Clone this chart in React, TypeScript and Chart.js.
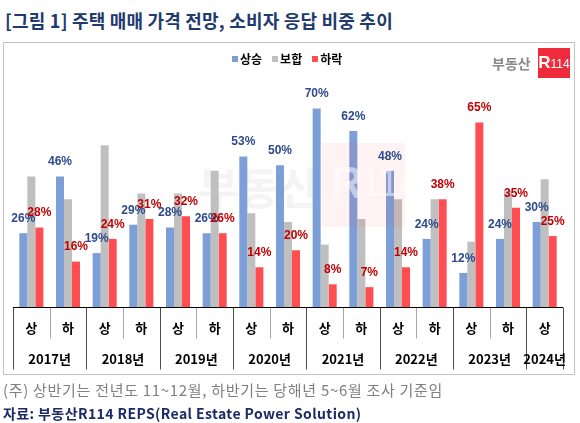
import { useEffect, useRef } from "react";
import { Chart, registerables } from "chart.js";

Chart.register(...registerables);

// ---- data ----
const periods = ["상", "하", "상", "하", "상", "하", "상", "하", "상", "하", "상", "하", "상", "하", "상"];
const categoryYears = [
  "2017년", "2017년", "2018년", "2018년", "2019년", "2019년", "2020년", "2020년",
  "2021년", "2021년", "2022년", "2022년", "2023년", "2023년", "2024년",
];
const seriesNames = ["상승", "보합", "하락"];
const riseValues = [26, 46, 19, 29, 28, 26, 53, 50, 70, 62, 48, 24, 12, 24, 30];
const flatValues = [46, 38, 57, 40, 40, 48, 33, 30, 22, 31, 38, 38, 23, 41, 45];
const fallValues = [28, 16, 24, 31, 32, 26, 14, 20, 8, 7, 14, 38, 65, 35, 25];

const barColors = ["#7C9FD7", "#BFBFBF", "#FF4D52"];
const labelColors = ["#2D4A8C", null, "#C00000"];
const KR = '"Noto Sans CJK KR", "Noto Sans", sans-serif';

const decorPlugin = {
  id: "decor",
  beforeDatasetsDraw(chart: any) {
    const ctx = chart.ctx;
    ctx.save();
    ctx.fillStyle = "#F4F4F4";
    ctx.font = `bold 44px ${KR}`;
    ctx.textAlign = "center";
    ctx.textBaseline = "middle";
    ctx.fillText("부동산", 259, 188);
    ctx.restore();
  },
  afterDatasetsDraw(chart: any) {
    const ctx = chart.ctx;
    // faint watermark box
    ctx.save();
    ctx.fillStyle = "rgba(255,70,90,0.07)";
    ctx.fillRect(322, 143, 83, 84);
    ctx.fillStyle = "rgba(255,255,255,0.5)";
    ctx.textBaseline = "middle";
    ctx.textAlign = "left";
    ctx.font = `bold 44px "Liberation Sans", Arial, sans-serif`;
    ctx.fillText("R", 331, 186);
    ctx.font = `38px "Liberation Sans Narrow", "Liberation Sans", sans-serif`;
    ctx.fillText("114", 360, 186);
    ctx.restore();

    // value labels
    ctx.save();
    ctx.font = `bold 12px "Liberation Sans", Arial, sans-serif`;
    ctx.textAlign = "center";
    ctx.textBaseline = "middle";
    chart.data.datasets.forEach((ds: any, di: number) => {
      const col = labelColors[di];
      if (!col) return;
      const meta = chart.getDatasetMeta(di);
      ctx.fillStyle = col;
      meta.data.forEach((el: any, j: number) => {
        ctx.fillText(ds.data[j] + "%", el.x, el.y - 14.5);
      });
    });
    ctx.restore();
  },
  afterDraw(chart: any) {
    const ctx = chart.ctx;
    const xs = chart.scales.x;
    const area = chart.chartArea;
    const n = periods.length;
    const left = area.left;
    const right = area.right;
    const step = (right - left) / n;
    const base = Math.round(area.bottom) + 0.5;
    ctx.save();
    // separators
    for (let i = 0; i <= n; i++) {
      const x = Math.round(left + i * step) + 0.5;
      const isYearEdge = i === 0 || i === n || categoryYears[i] !== categoryYears[i - 1];
      ctx.strokeStyle = isYearEdge ? "#4D4D4D" : "#A6A6A6";
      ctx.lineWidth = 1;
      ctx.beginPath();
      ctx.moveTo(x, base);
      ctx.lineTo(x, isYearEdge ? base + 62 : base + 31);
      ctx.stroke();
    }
    // axis line
    ctx.strokeStyle = "#000000";
    ctx.lineWidth = 1;
    ctx.beginPath();
    ctx.moveTo(left, base);
    ctx.lineTo(right, base);
    ctx.stroke();

    // labels
    ctx.fillStyle = "#000000";
    ctx.font = `bold 13px ${KR}`;
    ctx.textAlign = "center";
    ctx.textBaseline = "middle";
    periods.forEach((p, i) => {
      ctx.fillText(p, xs.getPixelForValue(i), base + 20.5);
    });
    let start = 0;
    for (let i = 1; i <= n; i++) {
      if (i === n || categoryYears[i] !== categoryYears[start]) {
        const cx = (xs.getPixelForValue(start) + xs.getPixelForValue(i - 1)) / 2;
        ctx.fillText(categoryYears[start], cx, base + 51.5);
        start = i;
      }
    }
    ctx.restore();
  },
};

export default function App() {
  const canvasRef = useRef<HTMLCanvasElement | null>(null);

  useEffect(() => {
    document.body.style.margin = "0";
    const canvas = canvasRef.current;
    if (!canvas) return;
    const chart = new Chart(canvas, {
      type: "bar",
      data: {
        labels: periods,
        datasets: [riseValues, flatValues, fallValues].map((vals, i) => ({
          label: seriesNames[i],
          data: vals,
          backgroundColor: barColors[i],
          borderWidth: 0,
          categoryPercentage: 0.655,
          barPercentage: 1.0,
        })),
      },
      options: {
        responsive: false,
        animation: false,
        layout: { padding: { left: 13, right: 17, top: 80, bottom: 116 } },
        scales: {
          x: { display: false },
          y: { display: false, min: 0, max: 80 },
        },
        plugins: {
          legend: { display: false },
          tooltip: { enabled: false },
        },
      },
      plugins: [decorPlugin],
    });
    return () => chart.destroy();
  }, []);

  const legendItem = (name: string, color: string) => (
    <div key={name} style={{ display: "flex", alignItems: "center", marginRight: 10 }}>
      <div style={{ width: 6, height: 6, background: color, marginRight: 2 }} />
      <span>{name}</span>
    </div>
  );

  return (
    <div style={{ position: "relative", width: 580, height: 423, background: "#fff", overflow: "hidden", fontFamily: KR }}>
      <div
        style={{
          position: "absolute", left: 5, top: 10, fontSize: 18, lineHeight: "21px",
          fontWeight: 700, color: "#1F3A6E", whiteSpace: "nowrap", letterSpacing: 0.2,
        }}
      >
        [그림 1] 주택 매매 가격 전망, 소비자 응답 비중 추이
      </div>
      <div
        style={{
          position: "absolute", left: 3, top: 42, width: 572, height: 333,
          border: "1px solid #C4C4C4", boxSizing: "border-box",
        }}
      />
      <canvas ref={canvasRef} width={580} height={423} style={{ position: "absolute", left: 0, top: 0 }} />
      <div
        style={{
          position: "absolute", left: 232, top: 52, height: 14, display: "flex", alignItems: "center",
          fontSize: 12, lineHeight: "14px", fontWeight: 700, color: "#000",
        }}
      >
        {seriesNames.map((s, i) => legendItem(s, barColors[i]))}
      </div>
      <div
        style={{
          position: "absolute", left: 492, top: 55, fontSize: 14, lineHeight: "16px",
          fontWeight: 700, color: "#8A8A8A", whiteSpace: "nowrap",
        }}
      >
        부동산
      </div>
      <div
        style={{
          position: "absolute", left: 538, top: 48, width: 32, height: 30, background: "#EE2A3B",
          display: "flex", alignItems: "center", justifyContent: "center", color: "#fff",
          fontFamily: '"Liberation Sans", Arial, sans-serif', whiteSpace: "nowrap",
        }}
      >
        <span style={{ fontWeight: 700, fontSize: 17, lineHeight: "18px" }}>R</span>
        <span style={{ fontFamily: '"Liberation Sans Narrow", "Liberation Sans", sans-serif', fontSize: 12, lineHeight: "18px", marginTop: 2 }}>114</span>
      </div>
      <div
        style={{
          position: "absolute", left: 3, top: 380, fontSize: 15, lineHeight: "19px",
          color: "#808080", whiteSpace: "nowrap", letterSpacing: 0.7,
        }}
      >
        (주) 상반기는 전년도 11~12월, 하반기는 당해년 5~6월 조사 기준임
      </div>
      <div
        style={{
          position: "absolute", left: 3, top: 404, fontSize: 14, lineHeight: "18px",
          fontWeight: 700, color: "#1C2A66", whiteSpace: "nowrap", letterSpacing: 0.4,
        }}
      >
        자료: 부동산R114 REPS(Real Estate Power Solution)
      </div>
    </div>
  );
}
